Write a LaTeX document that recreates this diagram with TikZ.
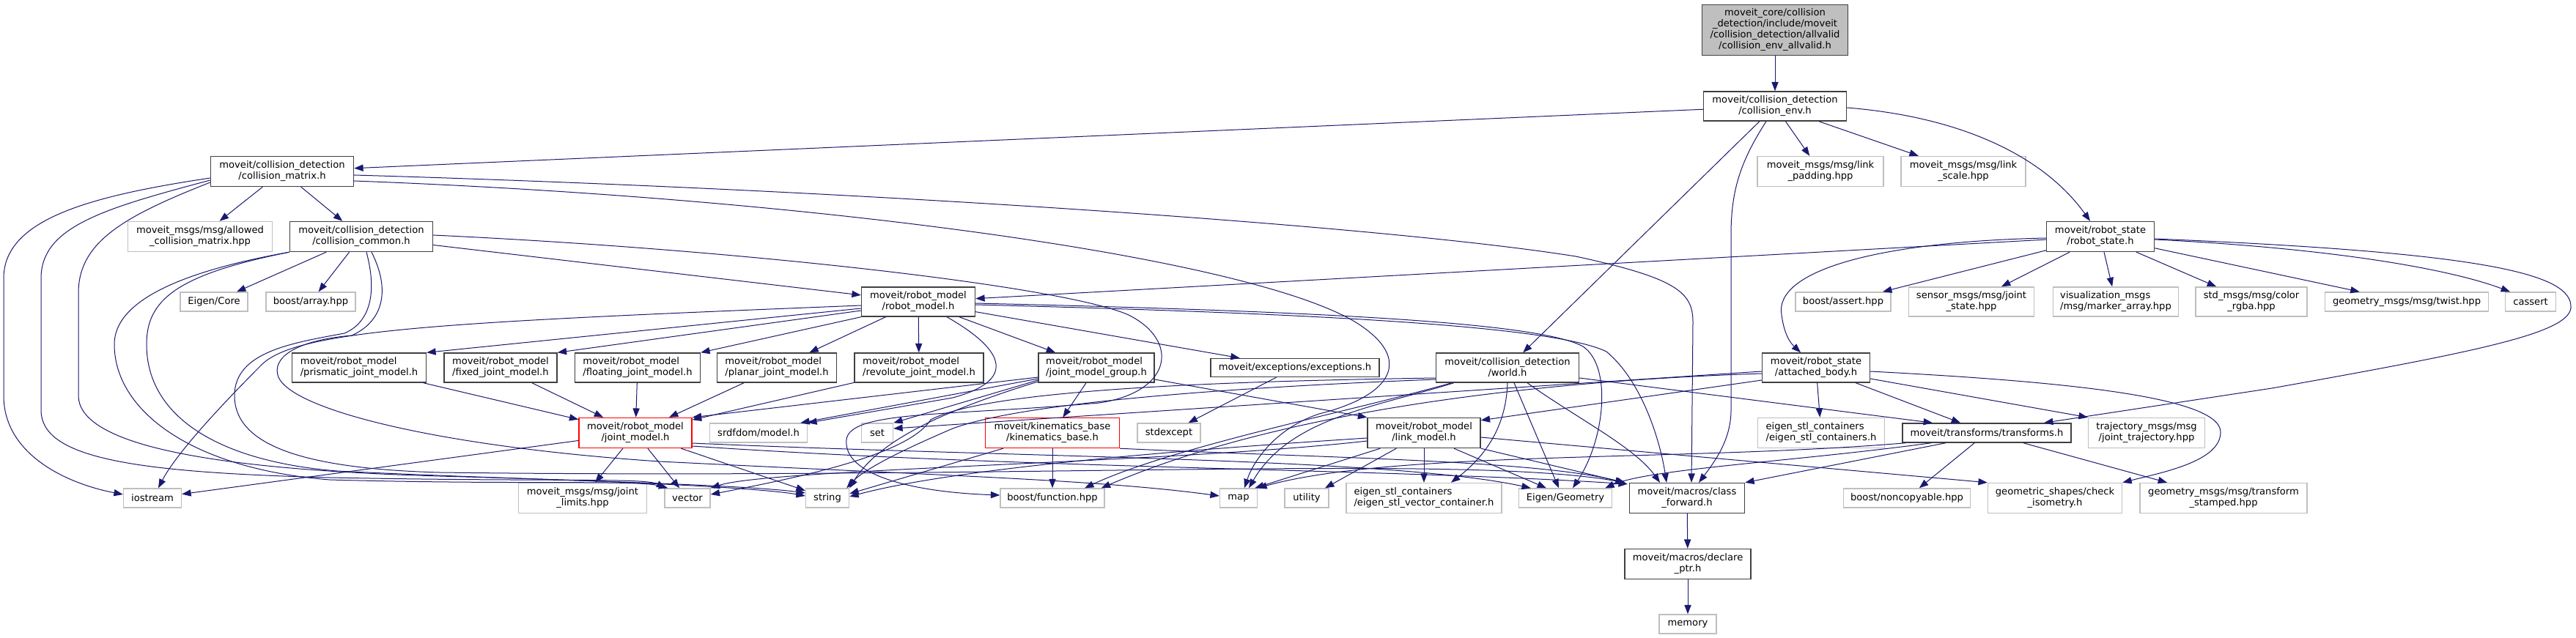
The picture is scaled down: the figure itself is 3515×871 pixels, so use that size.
\documentclass[tikz,border=0pt]{standalone}
\usepackage{fontspec}
\setmainfont{DejaVu Sans}
\usetikzlibrary{arrows.meta,calc}
\definecolor{edgeblue}{HTML}{191970}
\definecolor{docgray}{HTML}{404040}
\definecolor{extgray}{HTML}{BFBFBF}
\definecolor{topfill}{HTML}{BFBFBF}
\newcommand{\dgfont}{\fontsize{6.55pt}{7.5pt}\selectfont}
\tikzset{
 nbase/.style={draw, line width=0.7pt, inner sep=0pt, font=\dgfont, fill=white, align=center, text=black},
 doc/.style={nbase, draw=docgray},
 ext/.style={nbase, draw=extgray},
 trunc/.style={nbase, draw=red},
 rootn/.style={nbase, draw=docgray, fill=topfill},
 lft/.style={align=left},
 conn/.style={draw=edgeblue, line width=0.5pt, -{Triangle[length=6.2pt,width=4.6pt]}},
 sz/.style 2 args={minimum width=#1*0.5pt, minimum height=#2*0.5pt}
}
\begin{document}
\begin{tikzpicture}[x=0.5pt,y=-0.5pt]
\fill[white] (0,0) rectangle (3515,871);
\useasboundingbox (0,0) rectangle (3515,871);
% row 0-1
\node[rootn, sz={199}{69}] (top) at (2422,41) {moveit\_core/collision\\\_detection/include/moveit\\/collision\_detection/allvalid\\/collision\_env\_allvalid.h};
\node[doc, sz={195}{40}] (cenv) at (2422,145) {moveit/collision\_detection\\/collision\_env.h};
% row 2
\node[doc, sz={195}{41}] (cmat) at (385,234) {moveit/collision\_detection\\/collision\_matrix.h};
\node[ext, sz={172}{41}] (lpad) at (2484,234) {moveit\_msgs/msg/link\\\_padding.hpp};
\node[ext, sz={170}{41}] (lscale) at (2679,234) {moveit\_msgs/msg/link\\\_scale.hpp};
% row 3
\node[ext, sz={197}{41}] (acm) at (273,323) {moveit\_msgs/msg/allowed\\\_collision\_matrix.hpp};
\node[doc, sz={195}{41}] (ccommon) at (493,323) {moveit/collision\_detection\\/collision\_common.h};
\node[doc, sz={147}{41}] (rstate) at (2866,323) {moveit/robot\_state\\/robot\_state.h};
% row 4
\node[ext, sz={92}{26}] (ecore) at (292,412) {Eigen/Core};
\node[ext, sz={122}{26}] (barray) at (424,412) {boost/array.hpp};
\node[doc, sz={155}{40}] (rmodel) at (1253,412) {moveit/robot\_model\\/robot\_model.h};
\node[ext, sz={130}{26}] (bassert) at (2515,412) {boost/assert.hpp};
\node[ext, sz={171}{40}] (sensor) at (2690,412) {sensor\_msgs/msg/joint\\\_state.hpp};
\node[ext, lft, sz={171}{40}] (vis) at (2887,412) {visualization\_msgs\\/msg/marker\_array.hpp};
\node[ext, sz={152}{40}] (stdm) at (3072,412) {std\_msgs/msg/color\\\_rgba.hpp};
\node[ext, sz={223}{26}] (twist) at (3284,412) {geometry\_msgs/msg/twist.hpp};
\node[ext, sz={69}{26}] (cassert) at (3453,412) {cassert};
% row 5
\node[doc, lft, sz={183}{40}] (prism) at (490,502) {moveit/robot\_model\\/prismatic\_joint\_model.h};
\node[doc, lft, sz={154}{40}] (fixed) at (683,502) {moveit/robot\_model\\/fixed\_joint\_model.h};
\node[doc, lft, sz={171}{40}] (floating) at (870,502) {moveit/robot\_model\\/floating\_joint\_model.h};
\node[doc, lft, sz={163}{40}] (planar) at (1060,502) {moveit/robot\_model\\/planar\_joint\_model.h};
\node[doc, lft, sz={176}{40}] (revolute) at (1254,502) {moveit/robot\_model\\/revolute\_joint\_model.h};
\node[doc, lft, sz={158}{40}] (jmg) at (1496,502) {moveit/robot\_model\\/joint\_model\_group.h};
\node[doc, sz={230}{25}] (exc) at (1767,502) {moveit/exceptions/exceptions.h};
\node[doc, sz={195}{40}] (world) at (2057,502) {moveit/collision\_detection\\/world.h};
\node[doc, sz={147}{40}] (attached) at (2478,502) {moveit/robot\_state\\/attached\_body.h};
% row 6
\node[trunc, sz={154}{41}] (jm) at (867,591) {moveit/robot\_model\\/joint\_model.h};
\node[ext, sz={133}{26}] (srdf) at (1035,591) {srdfdom/model.h};
\node[ext, sz={43}{26}] (set) at (1197,591) {set};
\node[trunc, sz={183}{41}] (kin) at (1436,591) {moveit/kinematics\_base\\/kinematics\_base.h};
\node[ext, sz={86}{26}] (stdexcept) at (1595,591) {stdexcept};
\node[doc, sz={154}{41}] (lm) at (1943,591) {moveit/robot\_model\\/link\_model.h};
\node[ext, lft, sz={173}{41}] (escont) at (2485,591) {eigen\_stl\_containers\\/eigen\_stl\_containers.h};
\node[doc, sz={230}{26}] (transforms) at (2711,591) {moveit/transforms/transforms.h};
\node[ext, sz={159}{41}] (traj) at (2929,591) {trajectory\_msgs/msg\\/joint\_trajectory.hpp};
% row 7
\node[ext, sz={79}{26}] (iostream) at (208,680) {iostream};
\node[ext, sz={175}{41}] (jlimits) at (795,680) {moveit\_msgs/msg/joint\\\_limits.hpp};
\node[ext, sz={62}{26}] (vector) at (938,680) {vector};
\node[ext, sz={59}{26}] (string) at (1129,680) {string};
\node[ext, sz={142}{26}] (bfunc) at (1436,680) {boost/function.hpp};
\node[ext, sz={51}{26}] (map) at (1690,680) {map};
\node[ext, sz={60}{26}] (utility) at (1783,680) {utility};
\node[ext, lft, sz={212}{41}] (esvc) at (1943,680) {eigen\_stl\_containers\\/eigen\_stl\_vector\_container.h};
\node[ext, sz={127}{26}] (egeom) at (2136,680) {Eigen/Geometry};
\node[doc, sz={157}{41}] (cfwd) at (2302,680) {moveit/macros/class\\\_forward.h};
\node[ext, sz={173}{26}] (bnoncopy) at (2602,680) {boost/noncopyable.hpp};
\node[ext, sz={183}{41}] (checkiso) at (2804,680) {geometric\_shapes/check\\\_isometry.h};
\node[ext, sz={228}{41}] (tstamped) at (3034,680) {geometry\_msgs/msg/transform\\\_stamped.hpp};
% rows 8-9
\node[doc, sz={172}{41}] (declare) at (2303,770) {moveit/macros/declare\\\_ptr.h};
\node[ext, sz={78}{26}] (memory) at (2303,852) {memory};

% ---------- edges ----------
\draw[conn] (top) -- (cenv);
\draw[conn] (cenv) -- (cmat);
\draw[conn] (cenv) -- (world);
\draw[conn] (cenv) -- (lpad);
\draw[conn] (cenv) -- (lscale);
\draw[conn] ($(cenv.south)+(-12,0)$) .. controls (2375,220) and (2362,260) .. (2362,320) -- (2362,560) .. controls (2362,600) and (2340,630) .. ($(cfwd.north)+(16,0)$);
\draw[conn] ($(cenv.east)+(0,2)$) .. controls (2680,160) and (2790,215) .. ($(rstate.north)+(-14,0)$);
% collision_matrix
\draw[conn] (cmat) -- (acm);
\draw[conn] (cmat) -- (ccommon);
\draw[conn] ($(cmat.west)+(0,9)$) .. controls (120,268) and (5,300) .. (5,380) -- (5,540) .. controls (5,620) and (90,660) .. ($(iostream.west)+(0,-5)$);
\draw[conn] ($(cmat.west)+(0,12)$) .. controls (140,285) and (56,310) .. (56,380) -- (56,560) .. controls (56,625) and (180,645) .. (450,652) .. controls (750,658) and (880,652) .. ($(vector.north west)+(2,0)$);
\draw[conn] ($(cmat.west)+(0,15)$) .. controls (170,295) and (107,330) .. (107,400) -- (107,540) .. controls (107,600) and (250,640) .. (600,650) .. controls (900,658) and (1050,668) .. ($(string.west)+(0,-3)$);
\draw[conn] ($(cmat.east)+(0,5)$) .. controls (1200,260) and (1900,310) .. (2150,350) .. controls (2290,380) and (2310,400) .. (2310,440) -- ($(cfwd.north)+(6,0)$);
\draw[conn] ($(cmat.east)+(0,13)$) .. controls (1100,270) and (1700,350) .. (1850,440) .. controls (1930,490) and (1900,540) .. (1800,565) .. controls (1740,585) and (1710,630) .. ($(map.north)+(8,0)$);
% collision_common
\draw[conn] (ccommon) -- (ecore);
\draw[conn] (ccommon) -- (barray);
\draw[conn] (ccommon) -- (rmodel);
\draw[conn] (ccommon.south west) .. controls (250,370) and (156,410) .. (156,470) .. controls (156,560) and (260,640) .. (450,655) .. controls (700,662) and (870,655) .. ($(vector.north west)+(5,0)$);
\draw[conn] (ccommon.south west) .. controls (240,375) and (200,410) .. (200,470) .. controls (200,570) and (300,630) .. (460,643) .. controls (700,655) and (1000,660) .. ($(string.west)+(0,-7)$);
\draw[conn] ($(ccommon.south)+(7,0)$) .. controls (515,400) and (505,440) .. (470,455) .. controls (400,468) and (320,480) .. (320,540) .. controls (320,610) and (420,640) .. (600,645) .. controls (1400,655) and (2000,620) .. ($(cfwd.north west)+(-6,0)$);
\draw[conn] ($(ccommon.south)+(14,0)$) .. controls (535,400) and (520,440) .. (480,458) .. controls (400,465) and (370,490) .. (380,515) .. controls (400,560) and (600,610) .. (900,630) .. controls (1300,650) and (1500,655) .. ($(map.west)+(0,-3)$);
\draw[conn] ($(ccommon.east)+(0,-2)$) .. controls (1000,340) and (1450,390) .. (1540,430) .. controls (1610,465) and (1600,535) .. (1500,550) .. controls (1300,568) and (1160,560) .. (1155,600) .. controls (1150,650) and (1250,672) .. ($(bfunc.west)+(0,-4)$);
% robot_model
\draw[conn] ($(rmodel.west)+(0,5)$) .. controls (600,440) and (400,450) .. (355,500) .. controls (300,555) and (240,620) .. ($(iostream.north)+(8,0)$);
\draw[conn] ($(rmodel.west)+(0,9)$) -- (prism.north east);
\draw[conn] ($(rmodel.west)+(0,12)$) -- (fixed.north east);
\draw[conn] (rmodel.south west) -- (floating.north east);
\draw[conn] (rmodel) -- (planar);
\draw[conn] (rmodel) -- (revolute);
\draw[conn] (rmodel) -- (jmg);
\draw[conn] (rmodel) -- (exc);
\draw[conn] ($(rmodel.south)+(39,0)$) .. controls (1375,480) and (1385,520) .. (1300,543) -- (srdf.north east);
\draw[conn] ($(rmodel.east)+(0,2)$) .. controls (1800,425) and (2100,440) .. (2160,473) .. controls (2200,500) and (2190,600) .. ($(egeom.north)+(10,0)$);
\draw[conn] ($(rmodel.east)+(0,4)$) .. controls (1800,428) and (2120,445) .. (2192,480) .. controls (2240,520) and (2265,600) .. ($(cfwd.north)+(-28,0)$);
% robot_state
\draw[conn] (rstate) -- (rmodel);
\draw[conn] ($(rstate.west)+(0,2)$) .. controls (2560,330) and (2420,370) .. (2431,430) .. controls (2435,460) and (2445,470) .. ($(attached.north)+(-21,0)$);
\draw[conn] (rstate) -- (bassert);
\draw[conn] (rstate) -- (sensor);
\draw[conn] (rstate) -- (vis);
\draw[conn] (rstate) -- (stdm);
\draw[conn] (rstate) -- (twist);
\draw[conn] ($(rstate.east)+(0,4)$) .. controls (3200,340) and (3350,370) .. ($(cassert.north)+(-28,0)$);
\draw[conn] ($(rstate.east)+(0,3)$) .. controls (3400,345) and (3510,375) .. (3508,420) .. controls (3505,455) and (3380,480) .. (3100,530) -- ($(transforms.north)+(78,0)$);
% joint models -> joint_model
\draw[conn] (prism) -- (jm);
\draw[conn] (fixed) -- (jm);
\draw[conn] (floating) -- (jm);
\draw[conn] (planar) -- (jm);
\draw[conn] (revolute) -- (jm);
% joint_model_group
\draw[conn] ($(jmg.west)+(0,13)$) -- (jm.north east);
\draw[conn] ($(jmg.west)+(0,15)$) -- ($(srdf.north east)+(-10,0)$);
\draw[conn] ($(jmg.west)+(0,17)$) -- (set.north east);
\draw[conn] ($(jmg.west)+(0,19)$) .. controls (1290,560) and (1200,600) .. (string.north east);
\draw[conn] (jmg) -- (kin);
\draw[conn] ($(jmg.east)+(0,16)$) -- (lm.north west);
% exceptions
\draw[conn] (exc) -- (stdexcept);
% world
\draw[conn] ($(world.west)+(0,14)$) .. controls (1700,520) and (1350,530) .. (1270,573) .. controls (1240,620) and (1100,650) .. ($(vector.east)+(0,-5)$);
\draw[conn] ($(world.west)+(0,16)$) .. controls (1700,528) and (1400,548) .. (1300,585) .. controls (1230,615) and (1180,640) .. ($(string.north east)+(-4,0)$);
\draw[conn] ($(world.south west)+(25,0)$) .. controls (1880,555) and (1760,570) .. ($(map.north)+(14,0)$);
\draw[conn] ($(world.south west)+(22,0)$) .. controls (1850,560) and (1600,610) .. ($(bfunc.north)+(44,0)$);
\draw[conn] (world.south) .. controls (2055,580) and (2030,620) .. ($(esvc.north)+(37,0)$);
\draw[conn] ($(world.south)+(9,0)$) -- ($(egeom.north)+(-9,0)$);
\draw[conn] ($(world.south)+(27,0)$) .. controls (2150,570) and (2230,610) .. ($(cfwd.north)+(-37,0)$);
\draw[conn] ($(world.east)+(0,14)$) -- ($(transforms.north)+(-74,0)$);
% attached_body
\draw[conn] (attached) -- (escont);
\draw[conn] (attached) -- (transforms);
\draw[conn] ($(attached.east)+(0,15)$) -- (traj.north west);
\draw[conn] ($(attached.east)+(0,5)$) .. controls (2800,520) and (3030,540) .. (3030,590) .. controls (3030,630) and (2950,645) .. (checkiso.north east);
\draw[conn] ($(attached.west)+(0,17)$) -- ($(lm.north east)+(0,4)$);
\draw[conn] ($(attached.west)+(0,5)$) -- ($(set.east)+(0,-6)$);
\draw[conn] ($(attached.west)+(0,8)$) .. controls (2100,520) and (1750,560) .. ($(bfunc.north east)+(-5,0)$);
% link_model
\draw[conn] ($(lm.west)+(0,7)$) .. controls (1600,615) and (1300,640) .. ($(string.east)+(0,-2)$);
\draw[conn] ($(lm.west)+(0,11)$) .. controls (1600,632) and (1050,640) .. (vector.north east);
\draw[conn] ($(lm.south west)+(18,0)$) -- ($(map.north east)+(-4,0)$);
\draw[conn] ($(lm.south west)+(40,0)$) -- ($(utility.north)+(25,0)$);
\draw[conn] (lm) -- (esvc);
\draw[conn] ($(lm.south)+(41,0)$) -- ($(egeom.north)+(-26,0)$);
\draw[conn] (lm.south east) -- ($(cfwd.north west)+(-6,0)$);
\draw[conn] ($(lm.east)+(0,6)$) -- (checkiso.north west);
% joint_model
\draw[conn] (jm) -- (jlimits);
\draw[conn] (jm) -- (vector);
\draw[conn] (jm) -- (string);
\draw[conn] (jm) -- (iostream);
\draw[conn] ($(jm.east)+(0,14)$) .. controls (1400,625) and (1900,625) .. ($(egeom.north west)+(17,0)$);
\draw[conn] ($(jm.east)+(0,18)$) .. controls (1400,640) and (1900,640) .. ($(cfwd.north west)+(-2,2)$);
% kinematics_base
\draw[conn] (kin) -- (bfunc);
\draw[conn] ($(kin.south west)+(25,0)$) -- ($(string.east)+(0,-6)$);
\draw[conn] (kin.south east) .. controls (1800,625) and (2100,628) .. ($(cfwd.north west)+(-4,1)$);
% transforms
\draw[conn] (transforms) -- (bnoncopy);
\draw[conn] (transforms) -- (tstamped);
\draw[conn] ($(transforms.south)+(-56,0)$) -- (cfwd.north east);
\draw[conn] ($(transforms.south west)+(40,0)$) .. controls (2450,630) and (2250,640) .. ($(egeom.north east)+(-10,0)$);
\draw[conn] ($(transforms.south west)+(5,0)$) .. controls (2300,630) and (1900,615) .. (map.north east);
% macros
\draw[conn] (cfwd) -- (declare);
\draw[conn] (declare) -- (memory);
\end{tikzpicture}
\end{document}
